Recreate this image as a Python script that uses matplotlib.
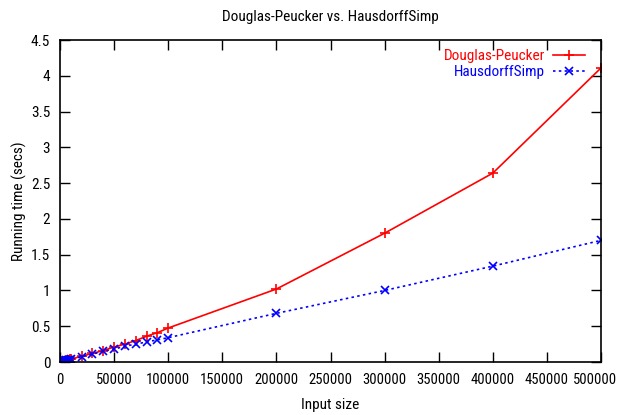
import matplotlib
matplotlib.use("Agg")
import matplotlib.pyplot as plt
from matplotlib import font_manager
from matplotlib.transforms import ScaledTranslation

# Input sizes and running times (secs)
sizes = [1000, 2000, 3000, 4000, 5000, 6000, 7000, 8000, 9000, 10000,
         20000, 30000, 40000, 50000, 60000, 70000, 80000, 90000, 100000,
         200000, 300000, 400000, 500000]
dp_times = [0.004, 0.008, 0.012, 0.016, 0.02, 0.024, 0.028, 0.032, 0.036, 0.04,
            0.08, 0.12, 0.16, 0.21, 0.25, 0.30, 0.36, 0.41, 0.475,
            1.02, 1.80, 2.64, 4.11]
hs_times = [0.004, 0.008, 0.011, 0.015, 0.019, 0.023, 0.027, 0.031, 0.035, 0.04,
            0.075, 0.11, 0.15, 0.18, 0.22, 0.25, 0.28, 0.31, 0.34,
            0.68, 1.00, 1.34, 1.70]

xticks = list(range(0, 500001, 50000))
yticks = [0, 0.5, 1, 1.5, 2, 2.5, 3, 3.5, 4, 4.5]
ytick_labels = ["0", "0.5", "1", "1.5", "2", "2.5", "3", "3.5", "4", "4.5"]

# gnuplot used a narrow Helvetica; pick the closest condensed sans installed
names = {f.name for f in font_manager.fontManager.ttflist}
narrow = ["Liberation Sans Narrow", "Nimbus Sans Narrow", "Arial Narrow",
          "Roboto Condensed", "Archivo Narrow", "Asap Condensed"]
fam = next((n for n in narrow if n in names), "Liberation Sans")
plt.rcParams['font.family'] = [fam, 'DejaVu Sans']
fs = 11

fig = plt.figure(figsize=(6.19, 4.15), dpi=100)
ax = fig.add_axes([0.0969, 0.1277, 0.8741, 0.7759])

ax.plot(sizes, dp_times, color="#ff0000", lw=1.2, marker="+", ms=7, mew=1.2,
        label="Douglas-Peucker")
ax.plot(sizes, hs_times, color="#0000ff", lw=1.2, ls=(0, (1.5, 2)), marker="x",
        ms=5.5, mew=1.2, label="HausdorffSimp")

ax.set_xlim(0, 500000)
ax.set_ylim(0, 4.5)
ax.set_xticks(xticks)
ax.set_yticks(yticks)
ax.set_xticklabels([str(v) for v in xticks])
ax.set_yticklabels(ytick_labels)
ax.tick_params(direction="in", length=7, width=1, top=True, right=True,
               labelsize=fs)
ax.tick_params(axis="x", pad=8, labelsize=10.5)
ax.tick_params(axis="y", pad=7)
for s in ax.spines.values():
    s.set_linewidth(1.2)

# nudge the last x label so it stays inside the canvas
last = ax.get_xticklabels()[-1]
last.set_transform(last.get_transform() + ScaledTranslation(-4 / 72, 0, fig.dpi_scale_trans))

ax.set_title("Douglas-Peucker vs. HausdorffSimp", fontsize=fs, pad=14)
ax.set_xlabel("Input size", fontsize=fs, labelpad=8)
ax.set_ylabel("Running time (secs)", fontsize=fs, labelpad=3)

leg = ax.legend(loc="upper right", bbox_to_anchor=(0.987, 1.0),
                markerfirst=False, frameon=False,
                labelcolor="linecolor", fontsize=fs, handlelength=2.1,
                labelspacing=0.15, borderaxespad=0.2, handletextpad=0.5)

plt.savefig("out.png", dpi=100)
